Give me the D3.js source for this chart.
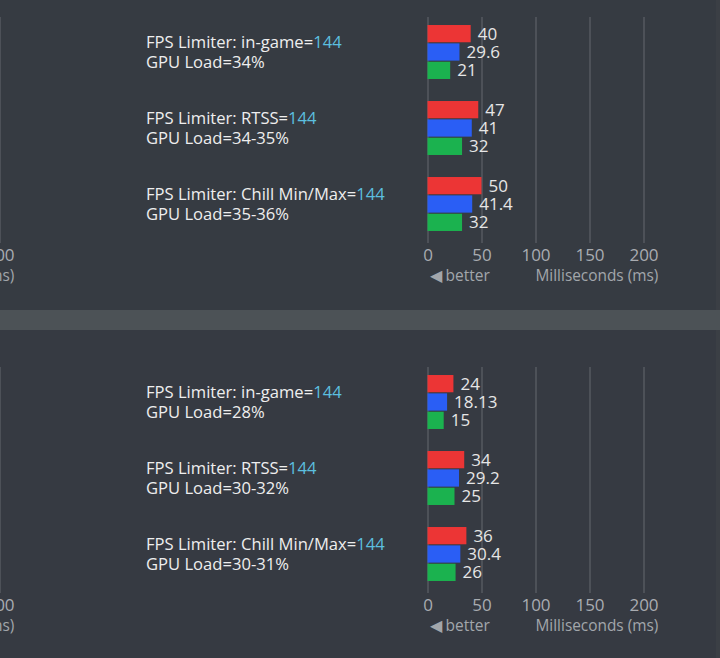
<!DOCTYPE html>
<html>
<head>
<meta charset="utf-8">
<script src="https://cdn.jsdelivr.net/npm/d3@7"></script>
<style>
  body { margin: 0; background: #363b42; }
  text { font-family: "Open Sans", "Noto Sans", sans-serif; }
</style>
</head>
<body>
<svg id="chart" width="720" height="658"></svg>
<script>
// data
var limiters = ["FPS Limiter: in-game=", "FPS Limiter: RTSS=", "FPS Limiter: Chill Min/Max="];
var fpsCap = "144";
var seriesKeys = ["red", "blue", "green"];
var ticks = [0, 50, 100, 150, 200];

var gpuLoadTop = ["34%", "34-35%", "35-36%"];
var redTop = [40, 47, 50];
var blueTop = [29.6, 41, 41.4];
var greenTop = [21, 32, 32];

var gpuLoadBottom = ["28%", "30-32%", "30-31%"];
var redBottom = [24, 34, 36];
var blueBottom = [18.13, 29.2, 30.4];
var greenBottom = [15, 25, 26];

var colors = { red: "#ec3535", blue: "#2a5ef5", green: "#1bb24f" };

var svg = d3.select( "#chart" );

// backgrounds
svg.append( "rect" ).attr( "x", 0 ).attr( "y", 0 ).attr( "width", 720 ).attr( "height", 310 ).style( "fill", "#363b42" );
svg.append( "rect" ).attr( "x", 0 ).attr( "y", 310 ).attr( "width", 720 ).attr( "height", 20 ).style( "fill", "#4c5256" );
svg.append( "rect" ).attr( "x", 0 ).attr( "y", 330 ).attr( "width", 720 ).attr( "height", 328 ).style( "fill", "#363a42" );
svg.append( "rect" ).attr( "x", 716 ).attr( "y", 0 ).attr( "width", 4 ).attr( "height", 310 ).style( "fill", "#3b3f45" );
svg.append( "rect" ).attr( "x", 716 ).attr( "y", 330 ).attr( "width", 4 ).attr( "height", 328 ).style( "fill", "#3b3f45" );

var x = d3.scaleLinear().domain( [0, 200] ).range( [427.5, 643.5] );
var xLeft = d3.scaleLinear().domain( [0, 200] ).range( [427.5 - 644, 643.5 - 644] );

var y = d3.scaleBand()
	.domain( limiters )
	.range( [14, 242] )
	.paddingInner( 0.29 )
	.paddingOuter( 0.145 );

var yInner = d3.scaleBand()
	.domain( seriesKeys )
	.range( [0, y.bandwidth()] )
	.paddingInner( 0.06 );

function drawAxis( g, scale, gridTop, gridBottom ) {
	var axis = g.append( "g" )
		.attr( "transform", "translate(0," + gridBottom + ")" )
		.call( d3.axisBottom( scale ).tickValues( ticks ).tickSize( -( gridBottom - gridTop ) ).tickPadding( 6 ) );
	axis.select( ".domain" ).remove();
	axis.selectAll( "line" ).style( "stroke", "#64686e" ).style( "stroke-width", 1 );
	axis.selectAll( "text" ).style( "fill", "#a9acb1" ).style( "font-size", "17px" )
		.style( "font-family", "'Open Sans', sans-serif" );

	g.append( "text" )
		.attr( "x", scale( 0 ) + 2 )
		.attr( "y", gridBottom + 38 )
		.style( "fill", "#a2a6ab" )
		.style( "font-size", "15.5px" )
		.text( "\u25C0 better" );

	g.append( "text" )
		.attr( "x", scale( 100 ) )
		.attr( "y", gridBottom + 38 )
		.style( "fill", "#a2a6ab" )
		.style( "font-size", "15.4px" )
		.text( "Milliseconds (ms)" );
}

function drawPanel( offset, gpuLoads, red, blue, green ) {
	var g = svg.append( "g" ).attr( "transform", "translate(0," + offset + ")" );

	// neighbour chart, cut off at the left
	drawAxis( g, xLeft, 17, 243 );
	drawAxis( g, x, 17, 243 );

	var rows = limiters.map( function( d, i ) {
		return { name: d, gpu: gpuLoads[i], red: red[i], blue: blue[i], green: green[i] };
	} );

	var group = g.selectAll( ".group" )
		.data( rows )
		.enter()
		.append( "g" )
		.attr( "class", "group" )
		.attr( "transform", function( d ) { return "translate(0," + y( d.name ) + ")"; } );

	// labels
	var label = group.append( "text" )
		.attr( "x", 146 )
		.attr( "y", y.bandwidth() / 2 - 4 )
		.style( "fill", "#eeeeee" )
		.style( "font-size", "16.6px" );
	label.append( "tspan" ).text( function( d ) { return d.name; } );
	label.append( "tspan" ).style( "fill", "#5cbfdf" ).text( fpsCap );

	group.append( "text" )
		.attr( "x", 146 )
		.attr( "y", y.bandwidth() / 2 + 16 )
		.style( "fill", "#eeeeee" )
		.style( "font-size", "16.6px" )
		.text( function( d ) { return "GPU Load=" + d.gpu; } );

	// bars
	seriesKeys.forEach( function( k ) {
		group.append( "rect" )
			.attr( "x", x( 0 ) )
			.attr( "y", yInner( k ) )
			.attr( "width", function( d ) { return x( d[k] ) - x( 0 ); } )
			.attr( "height", yInner.bandwidth() )
			.style( "fill", colors[k] );

		group.append( "text" )
			.attr( "x", function( d ) { return x( d[k] ) + 7; } )
			.attr( "y", yInner( k ) + yInner.bandwidth() / 2 + 6 )
			.style( "fill", "#e6e6e6" )
			.style( "font-size", "17px" )
			.text( function( d ) { return d[k]; } );
	} );
}

drawPanel( 0, gpuLoadTop, redTop, blueTop, greenTop );
drawPanel( 350, gpuLoadBottom, redBottom, blueBottom, greenBottom );
</script>
</body>
</html>
